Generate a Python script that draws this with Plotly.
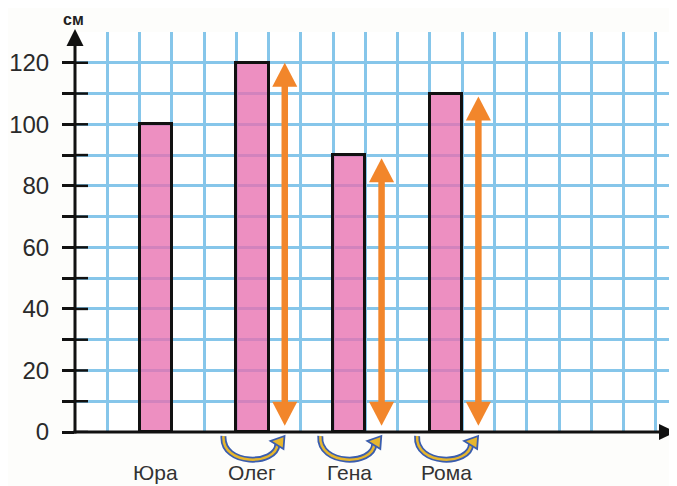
import plotly.graph_objects as go

# ---------------- data ----------------
names = ["Юра", "Олег", "Гена", "Рома"]
heights = [100, 120, 90, 110]
bar_slots = [2, 5, 8, 11]            # grid cell index of each bar
arrow_names = ["Олег", "Гена", "Рома"]
arrow_tops = [120, 89, 109]
arrow_bottom = 2
y_tick_values = list(range(0, 121, 10))
y_tick_labels = [str(v) if v % 20 == 0 else "" for v in y_tick_values]
unit_label = "см"

# ---------------- layout constants (window pixels) ----------------
OFF = 8                     # default page body margin
WIN_W, WIN_H = 677, 486
W, H = WIN_W - OFF, WIN_H - OFF
PLOT_L, PLOT_R, PLOT_T, PLOT_B = 75, 677, 32, 432   # window pixel coords
ML, MT = PLOT_L - OFF, PLOT_T - OFF
MR = W - (PLOT_R - OFF)
MB = H - (PLOT_B - OFF)
PW, PH = PLOT_R - PLOT_L, PLOT_B - PLOT_T
CELL = 32.27
XMAX = PW / CELL
YMAX = 130
GRID = "#86c6ea"
PINK = "rgba(232,112,176,0.78)"
ORANGE = "#F2862B"
YELLOW = "#E6B62E"
BLUE = "#3A5DAE"
FONT = "Liberation Sans, Arial, sans-serif"

def pxx(px):  # window pixel x -> paper
    return (px - PLOT_L) / PW

def pxy(py):  # window pixel y -> paper
    return (PLOT_B - py) / PH

def dx2px(x):
    return PLOT_L + x / XMAX * PW

y0px = PLOT_B

bar_x = [s + 0.5 for s in bar_slots]
fig = go.Figure()
fig.add_trace(go.Bar(
    x=bar_x, y=heights, width=1,
    marker=dict(color=PINK, line=dict(color="#111", width=3)),
    hoverinfo="skip",
))

shapes = []
# inner part of y ticks
for v in y_tick_values:
    shapes.append(dict(type="line", xref="x", yref="y", x0=0, x1=13 / CELL, y0=v, y1=v,
                       line=dict(color="#111", width=2.5), layer="above"))

# orange double arrows
hh = 24 / (PH / YMAX)   # head height in y units
hw = 12.5 / CELL        # half head width in x units
for n, top in zip(arrow_names, arrow_tops):
    xc = bar_x[names.index(n)] + 1
    shapes.append(dict(type="line", xref="x", yref="y", x0=xc, x1=xc,
                       y0=arrow_bottom + hh - 1, y1=top - hh + 1,
                       line=dict(color=ORANGE, width=6.5), layer="above"))
    shapes.append(dict(type="path", xref="x", yref="y", layer="above",
                       path=f"M{xc},{top} L{xc-hw},{top-hh} L{xc+hw},{top-hh} Z",
                       fillcolor=ORANGE, line=dict(width=0)))
    shapes.append(dict(type="path", xref="x", yref="y", layer="above",
                       path=f"M{xc},{arrow_bottom} L{xc-hw},{arrow_bottom+hh} L{xc+hw},{arrow_bottom+hh} Z",
                       fillcolor=ORANGE, line=dict(width=0)))

# axes lines with arrows (paper coordinates)
shapes.append(dict(type="line", xref="paper", yref="paper", x0=0, x1=0, y0=pxy(y0px + 1.5), y1=pxy(44),
                   line=dict(color="#111", width=3)))
shapes.append(dict(type="path", xref="paper", yref="paper",
                   path=f"M{pxx(PLOT_L)},{pxy(29)} L{pxx(PLOT_L-8.5)},{pxy(46)} L{pxx(PLOT_L+8.5)},{pxy(46)} Z",
                   fillcolor="#111", line=dict(width=0)))
shapes.append(dict(type="line", xref="paper", yref="paper", x0=pxx(PLOT_L - 1.5), x1=pxx(662), y0=0, y1=0,
                   line=dict(color="#111", width=3)))
shapes.append(dict(type="path", xref="paper", yref="paper",
                   path=f"M{pxx(676)},{pxy(y0px)} L{pxx(659)},{pxy(y0px-8)} L{pxx(659)},{pxy(y0px+8)} Z",
                   fillcolor="#111", line=dict(width=0)))

# curved arrows below bars
for n in arrow_names:
    cx = dx2px(bar_x[names.index(n)])
    def P(dx, dy):
        return f"{pxx(cx + dx)},{pxy(y0px + dy)}"
    curve = f"M{P(-29, 4)} C{P(-31, 34)} {P(24, 34)} {P(25, 12)}"
    shapes.append(dict(type="path", xref="paper", yref="paper", path=curve,
                       line=dict(color=BLUE, width=6)))
    shapes.append(dict(type="path", xref="paper", yref="paper", path=curve,
                       line=dict(color=YELLOW, width=2.5)))
    head = f"M{P(32, 4)} L{P(18, 9)} L{P(31, 17)} Z"
    shapes.append(dict(type="path", xref="paper", yref="paper", path=head,
                       fillcolor=YELLOW, line=dict(color=BLUE, width=1.8)))

annotations = []
for n, x in zip(names, bar_x):
    annotations.append(dict(text=n, xref="x", yref="paper", x=x, y=pxy(485),
                            xanchor="center", yanchor="bottom", showarrow=False,
                            borderpad=0,
                            font=dict(family=FONT, size=21, color="#333")))
annotations.append(dict(text=f"<b>{unit_label}</b>", xref="paper", yref="paper",
                        x=pxx(73), y=pxy(19), xanchor="center", yanchor="middle",
                        showarrow=False, font=dict(family=FONT, size=16, color="#222")))

fig.update_layout(
    width=W, height=H,
    margin=dict(l=ML, r=MR, t=MT, b=MB),
    paper_bgcolor="#fdfdfb", plot_bgcolor="white",
    showlegend=False,
    shapes=shapes, annotations=annotations,
    xaxis=dict(range=[0, XMAX], tickvals=list(range(1, 19)), showticklabels=False,
               showgrid=True, gridcolor=GRID, gridwidth=3, zeroline=False,
               showline=False, ticks="", fixedrange=True),
    yaxis=dict(range=[0, YMAX], tickvals=y_tick_values, ticktext=y_tick_labels,
               showgrid=True, gridcolor=GRID, gridwidth=3, zeroline=False,
               showline=False, ticks="outside", ticklen=12, tickwidth=2.5,
               tickcolor="#111", ticklabelstandoff=8,
               tickfont=dict(family=FONT, size=24, color="#2a2a2a"), fixedrange=True),
    bargap=0,
)

fig.write_html("out.html", config={"displayModeBar": False})
